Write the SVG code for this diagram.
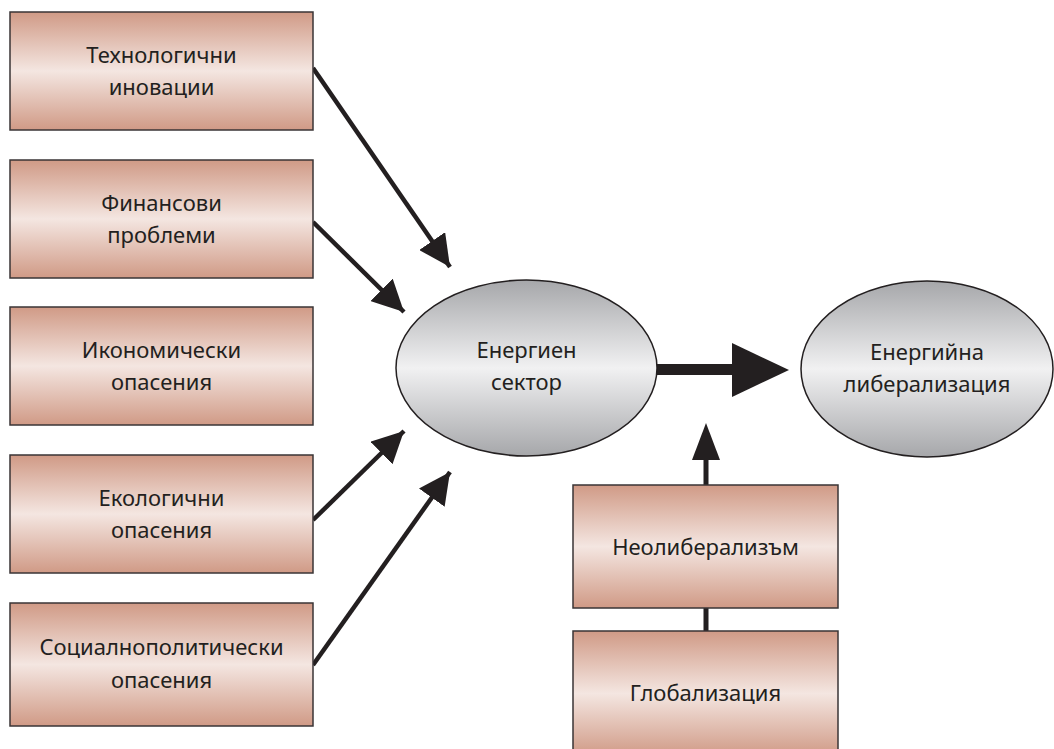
<svg xmlns="http://www.w3.org/2000/svg" width="1054" height="749" viewBox="0 0 1054 749">
<defs>
<linearGradient id="gBox" x1="0" y1="0" x2="0" y2="1">
<stop offset="0" stop-color="#d09a86"/>
<stop offset="0.5" stop-color="#f4e6e1"/>
<stop offset="1" stop-color="#d09a86"/>
</linearGradient>
<linearGradient id="gEll" x1="0" y1="0" x2="0" y2="1">
<stop offset="0" stop-color="#a6a7aa"/>
<stop offset="0.5" stop-color="#f1f1f2"/>
<stop offset="1" stop-color="#a6a7aa"/>
</linearGradient>
<marker id="ah" viewBox="0 0 10 10" refX="10" refY="5" markerWidth="7" markerHeight="7" markerUnits="strokeWidth" orient="auto">
<path d="M0,0 L10,5 L0,10 z" fill="#231f20"/>
</marker>
</defs>
<style>
.box{fill:url(#gBox);stroke:#3a3536;stroke-width:1.5}
.ell{fill:url(#gEll);stroke:#231f20;stroke-width:1.5}
.t{font-family:"Noto Sans","DejaVu Sans",sans-serif;font-size:22px;fill:#231f20;text-anchor:middle}
.c{stroke:#231f20;stroke-width:4.5;fill:none}
</style>
<g id="connectors">
<line class="c" x1="313" y1="68" x2="450" y2="267" marker-end="url(#ah)"/>
<line class="c" x1="313" y1="222" x2="404" y2="312" marker-end="url(#ah)"/>
<line class="c" x1="313" y1="520" x2="404" y2="431" marker-end="url(#ah)"/>
<line class="c" x1="313" y1="665" x2="450" y2="472" marker-end="url(#ah)"/>
<rect x="657" y="364" width="77" height="11" fill="#231f20"/>
<path d="M732,343 L789,370 L732,397 z" fill="#231f20"/>
<rect x="703.5" y="455" width="5" height="31" fill="#231f20"/>
<path d="M692,460 L706,423 L720,460 z" fill="#231f20"/>
<rect x="703.5" y="607" width="5" height="25" fill="#231f20"/>
</g>
<g id="n1"><rect class="box" x="10" y="12" width="303" height="118"/><text class="t" x="161.5" y="63">Технологични</text><text class="t" x="161.5" y="95">иновации</text></g>
<g id="n2"><rect class="box" x="10" y="160" width="303" height="118"/><text class="t" x="161.5" y="211">Финансови</text><text class="t" x="161.5" y="243">проблеми</text></g>
<g id="n3"><rect class="box" x="10" y="307" width="303" height="118"/><text class="t" x="161.5" y="358">Икономически</text><text class="t" x="161.5" y="390">опасения</text></g>
<g id="n4"><rect class="box" x="10" y="455" width="303" height="118"/><text class="t" x="161.5" y="506">Екологични</text><text class="t" x="161.5" y="538">опасения</text></g>
<g id="n5"><rect class="box" x="10" y="603" width="303" height="123"/><text class="t" x="161.5" y="655">Социалнополитически</text><text class="t" x="161.5" y="688">опасения</text></g>
<g id="e1"><ellipse class="ell" cx="526.5" cy="368" rx="130.5" ry="88"/><text class="t" x="526.5" y="358">Енергиен</text><text class="t" x="526.5" y="390">сектор</text></g>
<g id="e2"><ellipse class="ell" cx="927" cy="369" rx="126" ry="88"/><text class="t" x="927" y="360">Енергийна</text><text class="t" x="927" y="392">либерализация</text></g>
<g id="n6"><rect class="box" x="573" y="485" width="265" height="123"/><text class="t" x="705.5" y="555">Неолиберализъм</text></g>
<g id="n7"><rect class="box" x="573" y="631" width="265" height="125"/><text class="t" x="705.5" y="701">Глобализация</text></g>
</svg>
